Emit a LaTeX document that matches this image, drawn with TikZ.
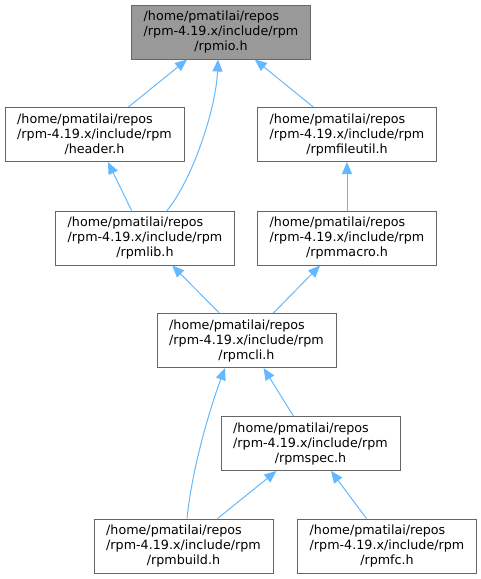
\documentclass[tikz,border=0pt]{standalone}
\usepackage{fontspec}
\usepackage{calc}
\setmainfont{DejaVu Sans}
\usetikzlibrary{arrows.meta}

\definecolor{edgeblue}{RGB}{99,184,255}
\definecolor{boxgray}{RGB}{102,102,102}
\definecolor{curfill}{RGB}{153,153,153}

\tikzset{
  file/.style={draw=boxgray, line width=1pt, minimum width=179pt, minimum height=54pt,
    inner sep=0pt, align=center, font=\fontsize{12.7}{15}\selectfont},
  current/.style={file, fill=curfill},
  incl/.style={draw=edgeblue, line width=1pt, -{Triangle[length=12pt,width=10pt,fill=edgeblue]}},
}
\newcommand{\fpath}[1]{\makebox[\widthof{/rpm-4.19.x/include/rpm}][l]{/home/pmatilai/repos}\\/rpm-4.19.x/include/rpm\\/#1}

\begin{document}
\begin{tikzpicture}[x=1pt,y=-1pt]
\useasboundingbox (0,0) rectangle (481,579);
% files
\node[current] (rpmio) at (221,32) {\fpath{rpmio.h}};
\node[file] (header) at (94.5,134.5) {\fpath{header.h}};
\node[file] (rpmfileutil) at (347,134.5) {\fpath{rpmfileutil.h}};
\node[file] (rpmlib) at (145,238) {\fpath{rpmlib.h}};
\node[file] (rpmmacro) at (347,238) {\fpath{rpmmacro.h}};
\node[file] (rpmcli) at (246.5,340.5) {\fpath{rpmcli.h}};
\node[file] (rpmspec) at (310.5,443.5) {\fpath{rpmspec.h}};
\node[file] (rpmbuild) at (183.5,546) {\fpath{rpmbuild.h}};
\node[file] (rpmfc) at (387,546) {\fpath{rpmfc.h}};
% includes
\draw[incl] (header) -- (rpmio);
\draw[incl] ([xshift=22pt]rpmlib.north) .. controls +(25,-30) and +(-2,50) .. ([xshift=-3pt]rpmio.south);
\draw[incl] (rpmfileutil) -- (rpmio);
\draw[incl] (rpmlib) -- (header);
\draw[incl] (rpmmacro) -- (rpmfileutil);
\draw[incl] (rpmcli) -- (rpmlib);
\draw[incl] (rpmcli) -- (rpmmacro);
\draw[incl] ([xshift=3.5pt]rpmbuild.north) .. controls +(5,-50) and +(-15,40) .. ([xshift=-21.5pt]rpmcli.south);
\draw[incl] (rpmspec) -- (rpmcli);
\draw[incl] (rpmbuild) -- (rpmspec);
\draw[incl] (rpmfc) -- (rpmspec);
\end{tikzpicture}
\end{document}
